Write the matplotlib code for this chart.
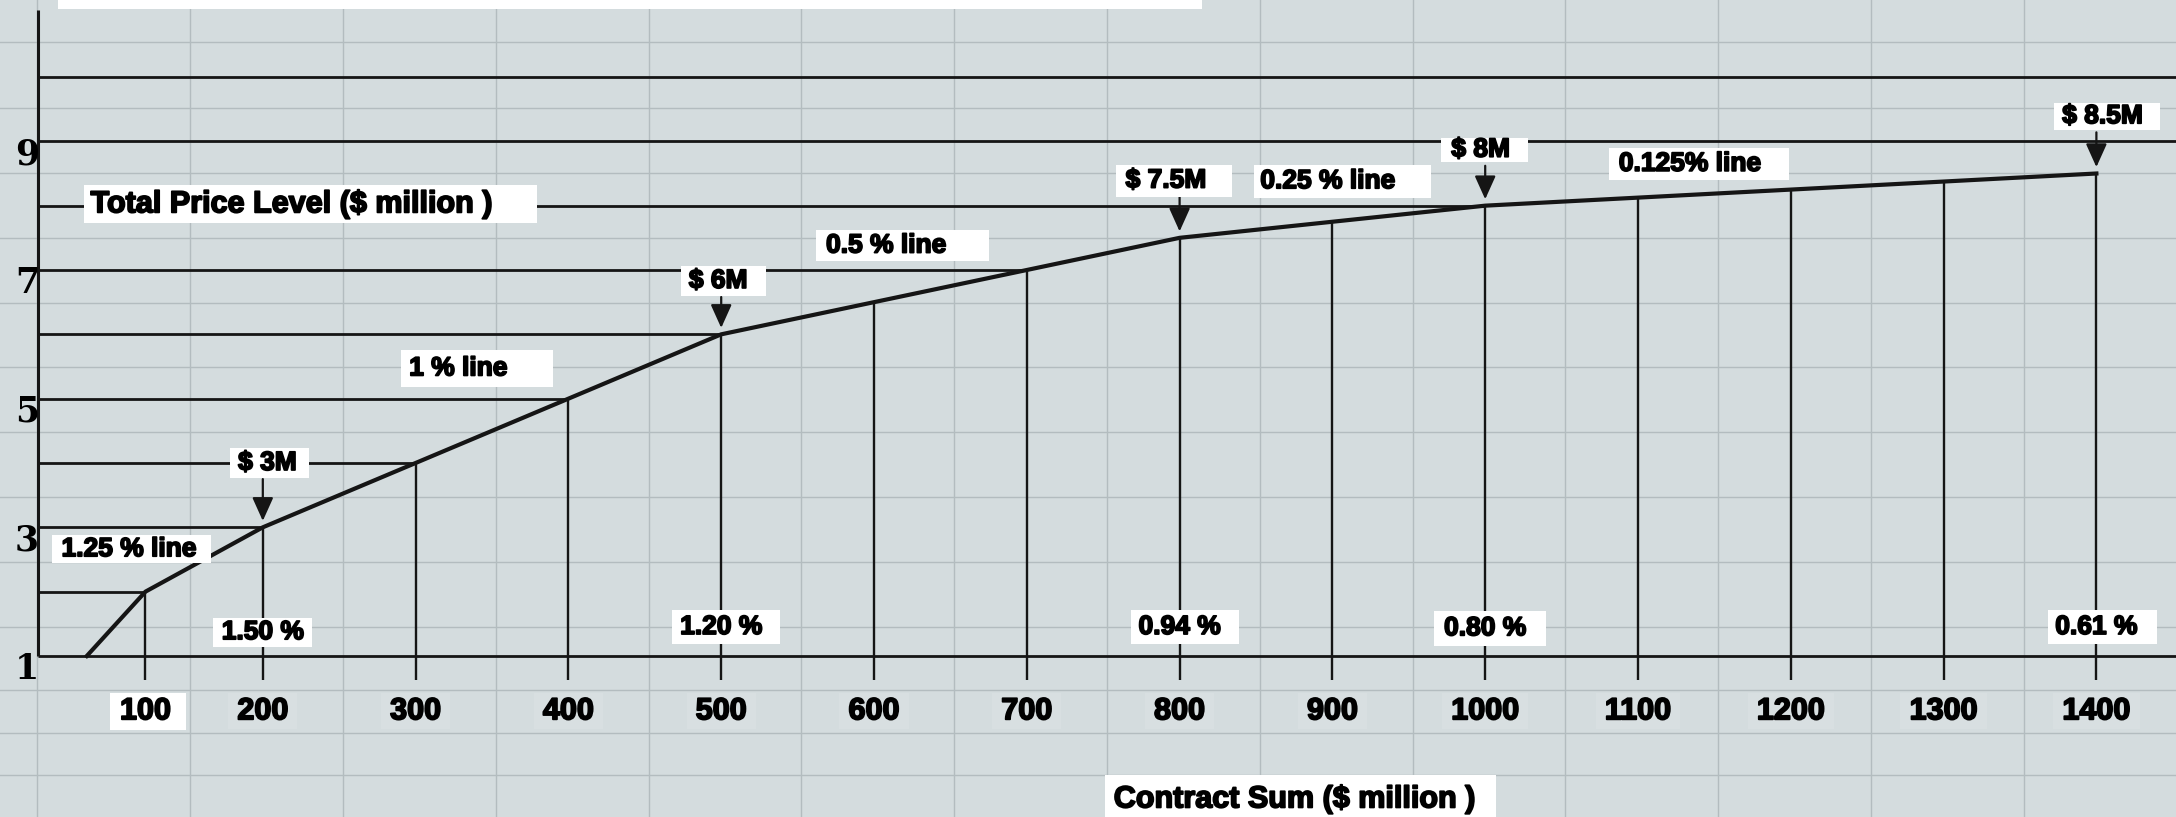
import matplotlib
matplotlib.use('Agg')
import matplotlib.pyplot as plt
import matplotlib.patheffects as pe
from matplotlib.path import Path
from matplotlib.patches import Rectangle
import numpy as np

# contract sum ($ million) -> total price level ($ million)
contract_sum = [50, 100, 200, 300, 400, 500, 600, 700, 800, 900, 1000, 1100, 1200, 1300, 1400]
price_level = [1, 2, 3, 4, 5, 6, 6.5, 7, 7.5, 7.75, 8, 8.125, 8.25, 8.375, 8.5]

x_ticks = [100, 200, 300, 400, 500, 600, 700, 800, 900, 1000, 1100, 1200, 1300, 1400]
y_ticks = [1, 3, 5, 7, 9]
guide_levels = [2, 3, 4, 5, 6, 7, 8]      # lines from the axis to the curve
full_levels = [1, 9, 10]                  # lines across the whole sheet

rate_labels = ['1.25 % line', '1 % line', '0.5 % line', '0.25 % line', '0.125% line']
price_marks = [200, 500, 800, 1000, 1400]
price_labels = ['$ 3M', '$ 6M', '$ 7.5M', '$ 8M', '$ 8.5M']
pct_labels = ['1.50 %', '1.20 %', '0.94 %', '0.80 %', '0.61 %']

# layout (label centres and box paddings in font-size units)
rate_pos = [(86, 2.66), (328, 5.47), (608, 7.38), (897, 8.38), (1134, 8.65)]
rate_pads = [(0.38, 0.53, 0.08), (0.3, 1.74, 0.26), (0.38, 1.6, 0.13),
             (0.23, 1.36, 0.17), (0.38, 1.06, 0.15)]
price_dx = [3, -2, -9, -3, 4]
price_dy = [1.0, 0.83, 0.89, 0.87, 0.89]
price_pads = [(0.3, 0.47, 0.13), (0.3, 0.7, 0.13), (0.38, 1.0, 0.15),
              (0.38, 0.68, 0.0), (0.3, 0.64, 0.05)]
pct_y = [1.37, 1.45, 1.45, 1.43, 1.45]
pct_pads = [(0.34, 0.3, 0.1), (0.3, 0.68, 0.2), (0.27, 0.68, 0.2),
            (0.38, 0.76, 0.22), (0.27, 0.72, 0.2)]

BG = '#d4dcde'
GRID = '#b3bcbf'
INK = '#151515'

# the sheet is drawn with the 0-200 stretch squeezed
K = 0.768


def to_sheet(v):
    v = np.asarray(v, dtype=float)
    return np.where(v >= 200, v, 200 - (200 - v) * K)


def from_sheet(u):
    u = np.asarray(u, dtype=float)
    return np.where(u >= 200, u, 200 - (200 - u) / K)


def sheet_box(left, right, vert):
    def box(x0, y0, width, height, mutation_size):
        l, r, v = left * mutation_size, right * mutation_size, vert * mutation_size
        return Path([(x0 - l, y0 - v), (x0 + width + r, y0 - v),
                     (x0 + width + r, y0 + height + v), (x0 - l, y0 + height + v),
                     (x0 - l, y0 - v)], closed=True)
    return box


fig = plt.figure(figsize=(21.76, 8.17), dpi=100, facecolor=BG)
ax = fig.add_axes([0, 0, 1, 1])
ax.set_xscale('function', functions=(to_sheet, from_sheet))
ax.set_xlim(float(from_sheet(28.0)), 1452.1)
ax.set_ylim(-1.503, 11.197)
ax.set_axis_off()

# spreadsheet cells behind the chart
sheet_cols = from_sheet(np.arange(52.5, 1460, 100))
sheet_rows = [10.54, 9.52, 8.51, 7.5, 6.49, 5.49, 4.48, 3.47, 2.46, 1.45, 0.47, -0.2, -0.85]
ax.vlines(sheet_cols, -2, 12, color=GRID, lw=1.0, zorder=1)
ax.hlines(sheet_rows, -100, 1500, color=GRID, lw=1.0, zorder=1)

y_axis_x = float(from_sheet(52.9))
ax.vlines(y_axis_x, 1, 11.04, color=INK, lw=2.2, zorder=3)

# level lines
ax.hlines(full_levels, y_axis_x, 1500, color=INK, lw=2.0, zorder=2)
guide_ends = np.interp(guide_levels, price_level, contract_sum)
ax.hlines(guide_levels, y_axis_x, guide_ends, color=INK, lw=2.0, zorder=2)

# drop lines from the curve
drop_tops = np.interp(x_ticks, contract_sum, price_level)
ax.vlines(x_ticks, 0.62, drop_tops, color=INK, lw=1.7, zorder=2)

ax.plot(contract_sum, price_level, color=INK, lw=3.0, zorder=4,
        solid_joinstyle='round')

bold = [pe.withStroke(linewidth=1.3, foreground='black')]


def label(x, y, s, pads, size=19, face='white', alpha=1.0):
    ax.text(x, y, s, ha='center', va='center', fontsize=size, fontweight='bold',
            family='Liberation Sans', color='black', zorder=6, path_effects=bold,
            bbox=dict(boxstyle=sheet_box(*pads), facecolor=face, alpha=alpha,
                      edgecolor='none'))


for s, (x, y), pads in zip(rate_labels, rate_pos, rate_pads):
    label(x, y, s, pads)

price_vals = np.interp(price_marks, contract_sum, price_level)
for s, x, v, dx, dy, pads in zip(price_labels, price_marks, price_vals,
                                 price_dx, price_dy, price_pads):
    ly = v + dy
    label(x + dx, ly, s, pads)
    ax.annotate('', xy=(x, v + 0.1), xytext=(x, ly - 0.25),
                arrowprops=dict(arrowstyle='-|>,head_length=0.4,head_width=0.18',
                                mutation_scale=36, color=INK, lw=1.6,
                                shrinkA=0, shrinkB=0), zorder=5)

for s, x, y, pads in zip(pct_labels, price_marks, pct_y, pct_pads):
    label(x, y, s, pads)

label(218.5, 8.02, 'Total Price Level ($ million )', (0.23, 1.5, 0.13), size=22)
label(875, -1.23, 'Contract Sum ($ million )', (0.3, 0.7, 0.3), size=22)

# axis numbers
for t in x_ticks:
    if t == 100:
        label(t, 0.14, str(t), (0.33, 0.5, 0.12), size=22)
    else:
        label(t, 0.14, str(t), (0.3, 0.3, 0.1), size=22, face='white', alpha=0.1)

for t in y_ticks:
    ax.text(0.0124, t - 0.2, str(t), transform=ax.get_yaxis_transform(),
            ha='center', va='center', fontsize=25, fontweight='bold',
            family='DejaVu Serif', color='black', zorder=6)

# cut-off title box at the top edge
fig.patches.append(Rectangle((58 / 2176, 1 - 9 / 817), 1144 / 2176, 9 / 817,
                             transform=fig.transFigure, facecolor='white',
                             edgecolor='none', zorder=7))

fig.savefig('out.png', dpi=100, facecolor=BG)
